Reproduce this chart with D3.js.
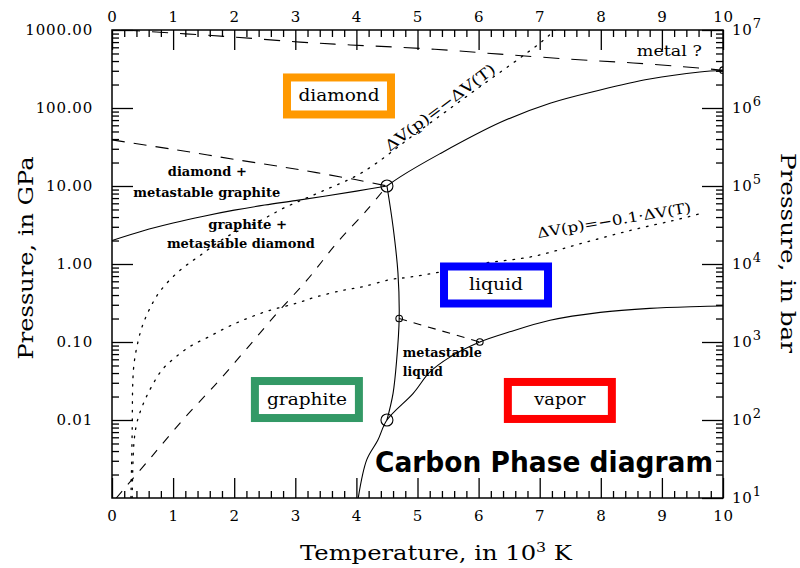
<!DOCTYPE html>
<html>
<head>
<meta charset="utf-8">
<script src="https://cdnjs.cloudflare.com/ajax/libs/d3/7.8.5/d3.min.js"></script>
<style>
body { margin: 0; background: #fff; }
svg { display: block; }
text { font-family: "DejaVu Serif", serif; fill: #000; }
</style>
</head>
<body>
<svg id="chart" width="800" height="568"></svg>
<script>
// axis ticks
var xTicks = [0, 1, 2, 3, 4, 5, 6, 7, 8, 9, 10];
var gpaTicks = [0.01, 0.1, 1, 10, 100, 1000];
var gpaLabels = ["0.01", "0.10", "1.00", "10.00", "100.00", "1000.00"];
var barTicks = [0.001, 0.01, 0.1, 1, 10, 100, 1000];   // same positions in GPa
var barExponents = ["1", "2", "3", "4", "5", "6", "7"];

// phase lines, [T in 10^3 K, P in GPa]
var graphiteDiamond = [[0, 2.0], [0.5, 2.65], [1, 3.35], [1.5, 4.1], [2, 4.9], [2.5, 5.7], [3, 6.5], [3.5, 7.45], [4, 8.6], [4.5, 10]];
var diamondLiquid = [[4.5, 10], [4.71, 13], [5.37, 26], [6.35, 65], [7.17, 115], [7.99, 170], [8.8, 235], [9.62, 290], [10, 305]];
var graphiteLiquid = [[4.5, 10], [4.6, 3.0], [4.68, 0.77], [4.7, 0.2], [4.66, 0.06], [4.6, 0.022], [4.5, 0.01]];
var vaporLine = [[4.03, 0.001], [4.17, 0.0031], [4.35, 0.0055], [4.5, 0.01], [4.93, 0.022], [5.2, 0.041], [5.53, 0.064], [6.02, 0.1], [6.51, 0.135], [7.17, 0.19], [7.99, 0.24], [8.8, 0.27], [9.62, 0.285], [10, 0.29]];
var metastableLiquid = [[4.7, 0.2], [6.02, 0.1]];
var diamondMetastable = [[0, 39], [1, 29.5], [2, 22], [3, 16.5], [4, 12], [4.5, 10]];
var graphiteMetastable = [[0.07, 0.001], [0.18, 0.00126], [0.65, 0.0034], [1.19, 0.0107], [1.72, 0.03], [2.21, 0.083], [2.7, 0.234], [3.19, 0.62], [3.68, 1.86], [4.17, 4.9], [4.5, 10]];
var metalLine = [[0.2, 1000], [1.98, 814], [3.08, 700], [3.9, 643], [4.71, 600], [5.53, 550], [6.35, 490], [7.71, 412], [8.53, 378], [9.35, 338], [10, 305]];
var dvEqual = [[0.31, 0.001], [0.33, 0.007], [0.34, 0.03], [0.36, 0.052], [0.41, 0.089], [0.49, 0.155], [0.61, 0.26], [0.77, 0.43], [1.08, 0.79], [1.45, 1.3], [1.88, 2.24], [2.37, 3.4], [2.83, 5.3], [3.4, 8.3], [4.1, 15], [5, 49], [6, 182], [7, 676], [7.25, 1000]];
var dvTenth = [[0.33, 0.001], [0.36, 0.0052], [0.41, 0.0094], [0.51, 0.016], [0.65, 0.027], [0.82, 0.044], [1.05, 0.065], [1.29, 0.089], [1.57, 0.115], [1.85, 0.15], [2.14, 0.19], [2.55, 0.25], [3.03, 0.316], [3.35, 0.38], [3.78, 0.46], [4.1, 0.51], [4.55, 0.63], [4.88, 0.68], [5.37, 0.79], [6, 1.0], [6.89, 1.25], [7.71, 1.86], [8.53, 2.75], [9.18, 3.6], [9.62, 4.4]];

// special points
var triplePoints = [[4.5, 10], [4.5, 0.01]];
var endPoints = [[4.7, 0.2], [6.02, 0.1], [10, 305]];

var svg = d3.select("#chart");
var x = d3.scaleLinear().domain([0, 10]).range([112, 723]);
var y = d3.scaleLog().domain([0.001, 1000]).range([498, 30]);

var minorX = d3.range(0, 51).filter(function(i) { return i % 5 !== 0; }).map(function(i) { return i / 5; });
var minorY = [];
for (var e = -3; e < 3; e++) {
  for (var k = 2; k < 10; k++) minorY.push(k * Math.pow(10, e));
}

function styleAxis(g) {
  g.select(".domain").remove();
  g.attr("font-family", "DejaVu Serif").attr("font-size", 15);
  g.selectAll(".tick line").attr("stroke-width", 1.3);
  g.selectAll(".tick text").attr("letter-spacing", 0.8);
}

// bottom / top
svg.append("g").attr("transform", "translate(0," + y(0.001) + ")")
  .call(d3.axisBottom(x).tickValues(xTicks).tickSize(-20).tickPadding(12).tickFormat(d3.format("d"))).call(styleAxis);
svg.append("g").attr("transform", "translate(0," + y(0.001) + ")")
  .call(d3.axisBottom(x).tickValues(minorX).tickSize(-7).tickFormat("")).call(styleAxis);
svg.append("g").attr("transform", "translate(0," + y(1000) + ")")
  .call(d3.axisTop(x).tickValues(xTicks).tickSize(-20).tickPadding(8).tickFormat(d3.format("d"))).call(styleAxis);
svg.append("g").attr("transform", "translate(0," + y(1000) + ")")
  .call(d3.axisTop(x).tickValues(minorX).tickSize(-7).tickFormat("")).call(styleAxis);

// left / right
svg.append("g").attr("transform", "translate(" + x(0) + ",0)")
  .call(d3.axisLeft(y).tickValues(gpaTicks).tickSize(-21).tickPadding(19)
    .tickFormat(function(d, i) { return gpaLabels[i]; })).call(styleAxis);
svg.append("g").attr("transform", "translate(" + x(0) + ",0)")
  .call(d3.axisLeft(y).tickValues(minorY).tickSize(-7).tickFormat("")).call(styleAxis);

var rightAxis = svg.append("g").attr("transform", "translate(" + x(10) + ",0)")
  .call(d3.axisRight(y).tickValues(barTicks).tickSize(-21).tickPadding(9).tickFormat(""))
  .call(styleAxis);
rightAxis.selectAll(".tick text").each(function(d, i) {
  var t = d3.select(this);
  t.append("tspan").text("10");
  t.append("tspan").attr("dy", -7).attr("font-size", 13).text(barExponents[i]);
});
svg.append("g").attr("transform", "translate(" + x(10) + ",0)")
  .call(d3.axisRight(y).tickValues(minorY).tickSize(-7).tickFormat("")).call(styleAxis);

// frame
svg.append("rect")
  .attr("x", x(0)).attr("y", y(1000))
  .attr("width", x(10) - x(0)).attr("height", y(0.001) - y(1000))
  .attr("fill", "none").attr("stroke", "#000").attr("stroke-width", 1.5);

// axis titles
svg.append("text").attr("x", 436).attr("y", 560).attr("text-anchor", "middle")
  .attr("font-size", 20).attr("textLength", 272).attr("lengthAdjust", "spacingAndGlyphs")
  .call(function(t) {
    t.append("tspan").text("Temperature, in 10");
    t.append("tspan").attr("dy", -8).attr("font-size", 13).text("3");
    t.append("tspan").attr("dy", 8).text(" K");
  });
svg.append("text").attr("transform", "translate(33,258) rotate(-90)").attr("text-anchor", "middle")
  .attr("font-size", 20).attr("textLength", 203).attr("lengthAdjust", "spacingAndGlyphs")
  .text("Pressure, in GPa");
svg.append("text").attr("transform", "translate(781,253) rotate(90)").attr("text-anchor", "middle")
  .attr("font-size", 20).attr("textLength", 200).attr("lengthAdjust", "spacingAndGlyphs")
  .text("Pressure, in bar");

// curves
svg.append("clipPath").attr("id", "plot-clip").append("rect")
  .attr("x", x(0)).attr("y", y(1000))
  .attr("width", x(10) - x(0)).attr("height", y(0.001) - y(1000));
var plot = svg.append("g").attr("clip-path", "url(#plot-clip)");

var line = d3.line()
  .x(function(d) { return x(d[0]); })
  .y(function(d) { return y(d[1]); })
  .curve(d3.curveCatmullRom.alpha(0.5));

function drawCurve(data, dash, width) {
  plot.append("path")
    .datum(data)
    .attr("fill", "none")
    .attr("stroke", "#000")
    .attr("stroke-width", width || 1.1)
    .attr("stroke-dasharray", dash)
    .attr("stroke-linecap", dash === "1.6,7" ? "round" : "butt")
    .attr("d", line);
}

drawCurve(graphiteDiamond, null);
drawCurve(diamondLiquid, null);
drawCurve(graphiteLiquid, null);
drawCurve(vaporLine, null);
drawCurve(metastableLiquid, "8,7");
drawCurve(diamondMetastable, "13,9");
drawCurve(graphiteMetastable, "9,9");
drawCurve(metalLine, "16,12");
drawCurve(dvEqual, "1.6,7", 1.3);
drawCurve(dvTenth, "1.6,7", 1.3);

plot.selectAll("circle.big").data(triplePoints).enter()
  .append("circle").attr("class", "big")
  .attr("cx", function(d) { return x(d[0]); })
  .attr("cy", function(d) { return y(d[1]); })
  .attr("r", 6).attr("fill", "none").attr("stroke", "#000").attr("stroke-width", 1.1);
plot.selectAll("circle.small").data(endPoints).enter()
  .append("circle").attr("class", "small")
  .attr("cx", function(d) { return x(d[0]); })
  .attr("cy", function(d) { return y(d[1]); })
  .attr("r", 3.3).attr("fill", "none").attr("stroke", "#000").attr("stroke-width", 1.1);

// rotated line labels
function rotLabel(str, t, p, angle, len, size) {
  svg.append("text")
    .attr("transform", "translate(" + x(t) + "," + y(p) + ") rotate(" + angle + ")")
    .attr("text-anchor", "middle").attr("font-size", size)
    .attr("textLength", len).attr("lengthAdjust", "spacingAndGlyphs")
    .text(str);
}
rotLabel("\u0394V(p)=\u2212\u0394V(T)", 5.42, 90, -37, 134, 15);
rotLabel("\u0394V(p)=\u22120.1\u00b7\u0394V(T)", 8.23, 3.16, -9.5, 156, 14);

// region notes
function note(str, t, p, anchor, len) {
  svg.append("text")
    .attr("x", x(t)).attr("y", y(p))
    .attr("text-anchor", anchor).attr("font-size", 12).attr("font-weight", "bold")
    .attr("textLength", len).attr("lengthAdjust", "spacingAndGlyphs")
    .text(str);
}
note("diamond +", 1.56, 13.4, "middle", 79);
note("metastable graphite", 1.55, 7.23, "middle", 147);
note("graphite +", 2.22, 2.81, "middle", 79);
note("metastable diamond", 2.11, 1.60, "middle", 148);
note("metastable", 4.76, 0.0646, "start", 79);
note("liquid", 4.76, 0.0366, "start", 40);
svg.append("text").attr("x", x(8.59)).attr("y", y(464))
  .attr("font-size", 14).attr("textLength", 65).attr("lengthAdjust", "spacingAndGlyphs")
  .text("metal ?");

// phase boxes
var phaseNames = ["diamond", "liquid", "graphite", "vapor"];
var phaseT = [3.715, 6.285, 3.19, 7.33];
var phaseP = [142.6, 0.538, 0.0183, 0.0178];
var phaseColors = ["#ff9900", "#0000ff", "#339966", "#ff0000"];
var phaseTextLen = [81, 54, 80, 51];

phaseNames.forEach(function(name, i) {
  var cx = x(phaseT[i]), cy = y(phaseP[i]);
  svg.append("rect")
    .attr("x", cx - 52).attr("y", cy - 18.5)
    .attr("width", 104).attr("height", 37)
    .attr("fill", "#fff").attr("stroke", phaseColors[i]).attr("stroke-width", 8);
  svg.append("text")
    .attr("x", cx).attr("y", cy + 5)
    .attr("text-anchor", "middle").attr("font-size", 16)
    .attr("textLength", phaseTextLen[i]).attr("lengthAdjust", "spacingAndGlyphs")
    .text(name);
});

// title
svg.append("text")
  .attr("x", 375).attr("y", 472)
  .attr("font-weight", "bold").attr("font-size", 29)
  .attr("textLength", 338).attr("lengthAdjust", "spacingAndGlyphs")
  .style("font-family", "'DejaVu Sans', sans-serif")
  .text("Carbon Phase diagram");
</script>
</body>
</html>
